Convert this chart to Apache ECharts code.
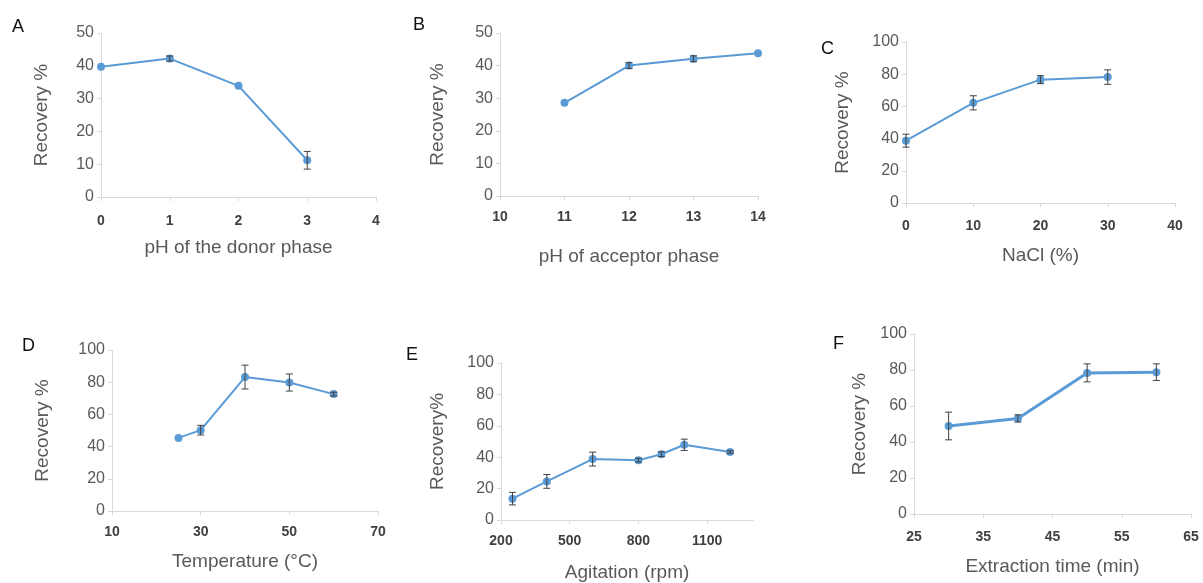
<!DOCTYPE html>
<html>
<head>
<meta charset="utf-8">
<script src="https://cdn.jsdelivr.net/npm/echarts@6/dist/echarts.min.js"></script>
<style>html,body{margin:0;padding:0;background:#fff}#c{width:1203px;height:583px}</style>
</head>
<body>
<div id="c"></div>
<script>
// Panel A
const aX = [0, 1, 2, 3];
const aY = [39.7, 42.2, 33.9, 11.2];
const aErr = [0, 0.8, 0.4, 2.7];
// Panel B
const bX = [11, 12, 13, 14];
const bY = [28.6, 40.0, 42.1, 43.8];
const bErr = [0, 0.9, 0.9, 0.6];
// Panel C
const cX = [0, 10, 20, 30];
const cY = [38.7, 62.2, 76.6, 78.2];
const cErr = [4.0, 4.4, 2.5, 4.5];
// Panel D
const dX = [25, 30, 40, 50, 60];
const dY = [45.4, 50.2, 83.2, 79.8, 72.6];
const dErr = [0.5, 3.0, 7.4, 5.3, 1.2];
// Panel E
const eX = [250, 400, 600, 800, 900, 1000, 1200];
const eY = [13.6, 24.6, 38.8, 38.1, 41.9, 47.9, 43.3];
const eErr = [4.0, 4.4, 4.4, 1.2, 1.5, 3.6, 0.8];
// Panel F
const fX = [30, 40, 50, 60];
const fY = [48.9, 53.1, 78.4, 78.8];
const fErr = [7.7, 2.0, 5.0, 4.6];

const letters = ['A', 'B', 'C', 'D', 'E', 'F'];
const xTitles = ['pH of the donor phase', 'pH of acceptor phase', 'NaCl (%)', 'Temperature (°C)', 'Agitation (rpm)', 'Extraction time (min)'];
const yTitles = ['Recovery %', 'Recovery %', 'Recovery %', 'Recovery %', 'Recovery%', 'Recovery %'];
const xRanges = [[0, 4, 1], [10, 14, 1], [0, 40, 10], [10, 70, 20], [200, 1300, 300], [25, 65, 10]];
const yRanges = [[0, 50, 10], [0, 50, 10], [0, 100, 20], [0, 100, 20], [0, 100, 20], [0, 100, 20]];

const dataSets = [[aX, aY, aErr], [bX, bY, bErr], [cX, cY, cErr], [dX, dY, dErr], [eX, eY, eErr], [fX, fY, fErr]];

// layout (pixels)
const grids = [
  {left: 101, top: 33, width: 275, height: 164},
  {left: 500, top: 33, width: 258, height: 163},
  {left: 906, top: 42, width: 269, height: 161},
  {left: 112, top: 350, width: 266, height: 161},
  {left: 501, top: 363, width: 252, height: 160},
  {left: 914, top: 334, width: 277, height: 180}
];
const xNameGap = [41, 51, 43, 41, 43, 43];
const yNameGap = [50, 53, 54, 60, 54, 45];
const xLabelMargin = [17, 14, 16, 14, 14, 16];
const lineWidths = [2, 2, 2, 2, 2, 3];
const letterPos = [[18, 28], [419, 26], [827, 50], [28, 347], [412, 356], [839, 345]];

const FONT = 'Liberation Sans, Arial, sans-serif';
const BLUE = '#5B9BD5';

const xAxis = [], yAxis = [], series = [], graphic = [];
for (let i = 0; i < 6; i++) {
  const [xmin, xmax, xint] = xRanges[i];
  const [ymin, ymax, yint] = yRanges[i];
  xAxis.push({
    type: 'value', gridIndex: i, min: xmin, max: xmax, interval: xint,
    name: xTitles[i], nameLocation: 'middle', nameGap: xNameGap[i],
    nameTextStyle: {fontFamily: FONT, fontSize: 19, color: '#595959'},
    axisLine: {show: true, lineStyle: {color: '#d9d9d9', width: 1}},
    axisTick: {show: true, length: 4, lineStyle: {color: '#d9d9d9'}},
    axisLabel: {fontFamily: FONT, fontSize: 14, fontWeight: 'bold', color: '#404040', margin: xLabelMargin[i], showMaxLabel: i !== 4,
      formatter: v => String(v)},
    splitLine: {show: false}
  });
  yAxis.push({
    type: 'value', gridIndex: i, min: ymin, max: ymax, interval: yint,
    name: yTitles[i], nameLocation: 'middle', nameGap: yNameGap[i], nameRotate: 90,
    nameTextStyle: {fontFamily: FONT, fontSize: 19, color: '#595959'},
    axisLine: {show: true, lineStyle: {color: '#d9d9d9', width: 1}},
    axisTick: {show: true, length: 4, lineStyle: {color: '#d9d9d9'}},
    axisLabel: {fontFamily: FONT, fontSize: 16, color: '#595959', margin: 7},
    splitLine: {show: false}
  });
  const [xs, ys, es] = dataSets[i];
  series.push({
    type: 'line', xAxisIndex: i, yAxisIndex: i,
    data: xs.map((x, k) => [x, ys[k]]),
    symbol: 'circle', symbolSize: 8, showSymbol: true,
    lineStyle: {color: BLUE, width: lineWidths[i]},
    itemStyle: {color: BLUE},
    z: 2, animation: false
  });
  series.push({
    type: 'custom', xAxisIndex: i, yAxisIndex: i,
    data: xs.map((x, k) => [x, ys[k] - es[k], ys[k] + es[k]]).filter((d, k) => es[k] >= 0.7),
    renderItem: function (params, api) {
      const x = api.value(0);
      const lo = api.coord([x, api.value(1)]);
      const hi = api.coord([x, api.value(2)]);
      const w = 3.5;
      const st = {stroke: '#404040', lineWidth: 1};
      return {type: 'group', children: [
        {type: 'line', shape: {x1: lo[0], y1: lo[1], x2: hi[0], y2: hi[1]}, style: st},
        {type: 'line', shape: {x1: lo[0] - w, y1: lo[1], x2: lo[0] + w, y2: lo[1]}, style: st},
        {type: 'line', shape: {x1: hi[0] - w, y1: hi[1], x2: hi[0] + w, y2: hi[1]}, style: st}
      ]};
    },
    z: 5, animation: false
  });
  graphic.push({
    type: 'text', left: letterPos[i][0] - 6, top: letterPos[i][1] - 10,
    style: {text: letters[i], fontFamily: FONT, fontSize: 18, fill: '#111'}
  });
}

const chart = echarts.init(document.getElementById('c'), null, {renderer: 'canvas'});
chart.setOption({
  animation: false,
  backgroundColor: '#ffffff',
  grid: grids.map(g => Object.assign({containLabel: false}, g)),
  xAxis, yAxis, series, graphic
});
</script>
</body>
</html>
